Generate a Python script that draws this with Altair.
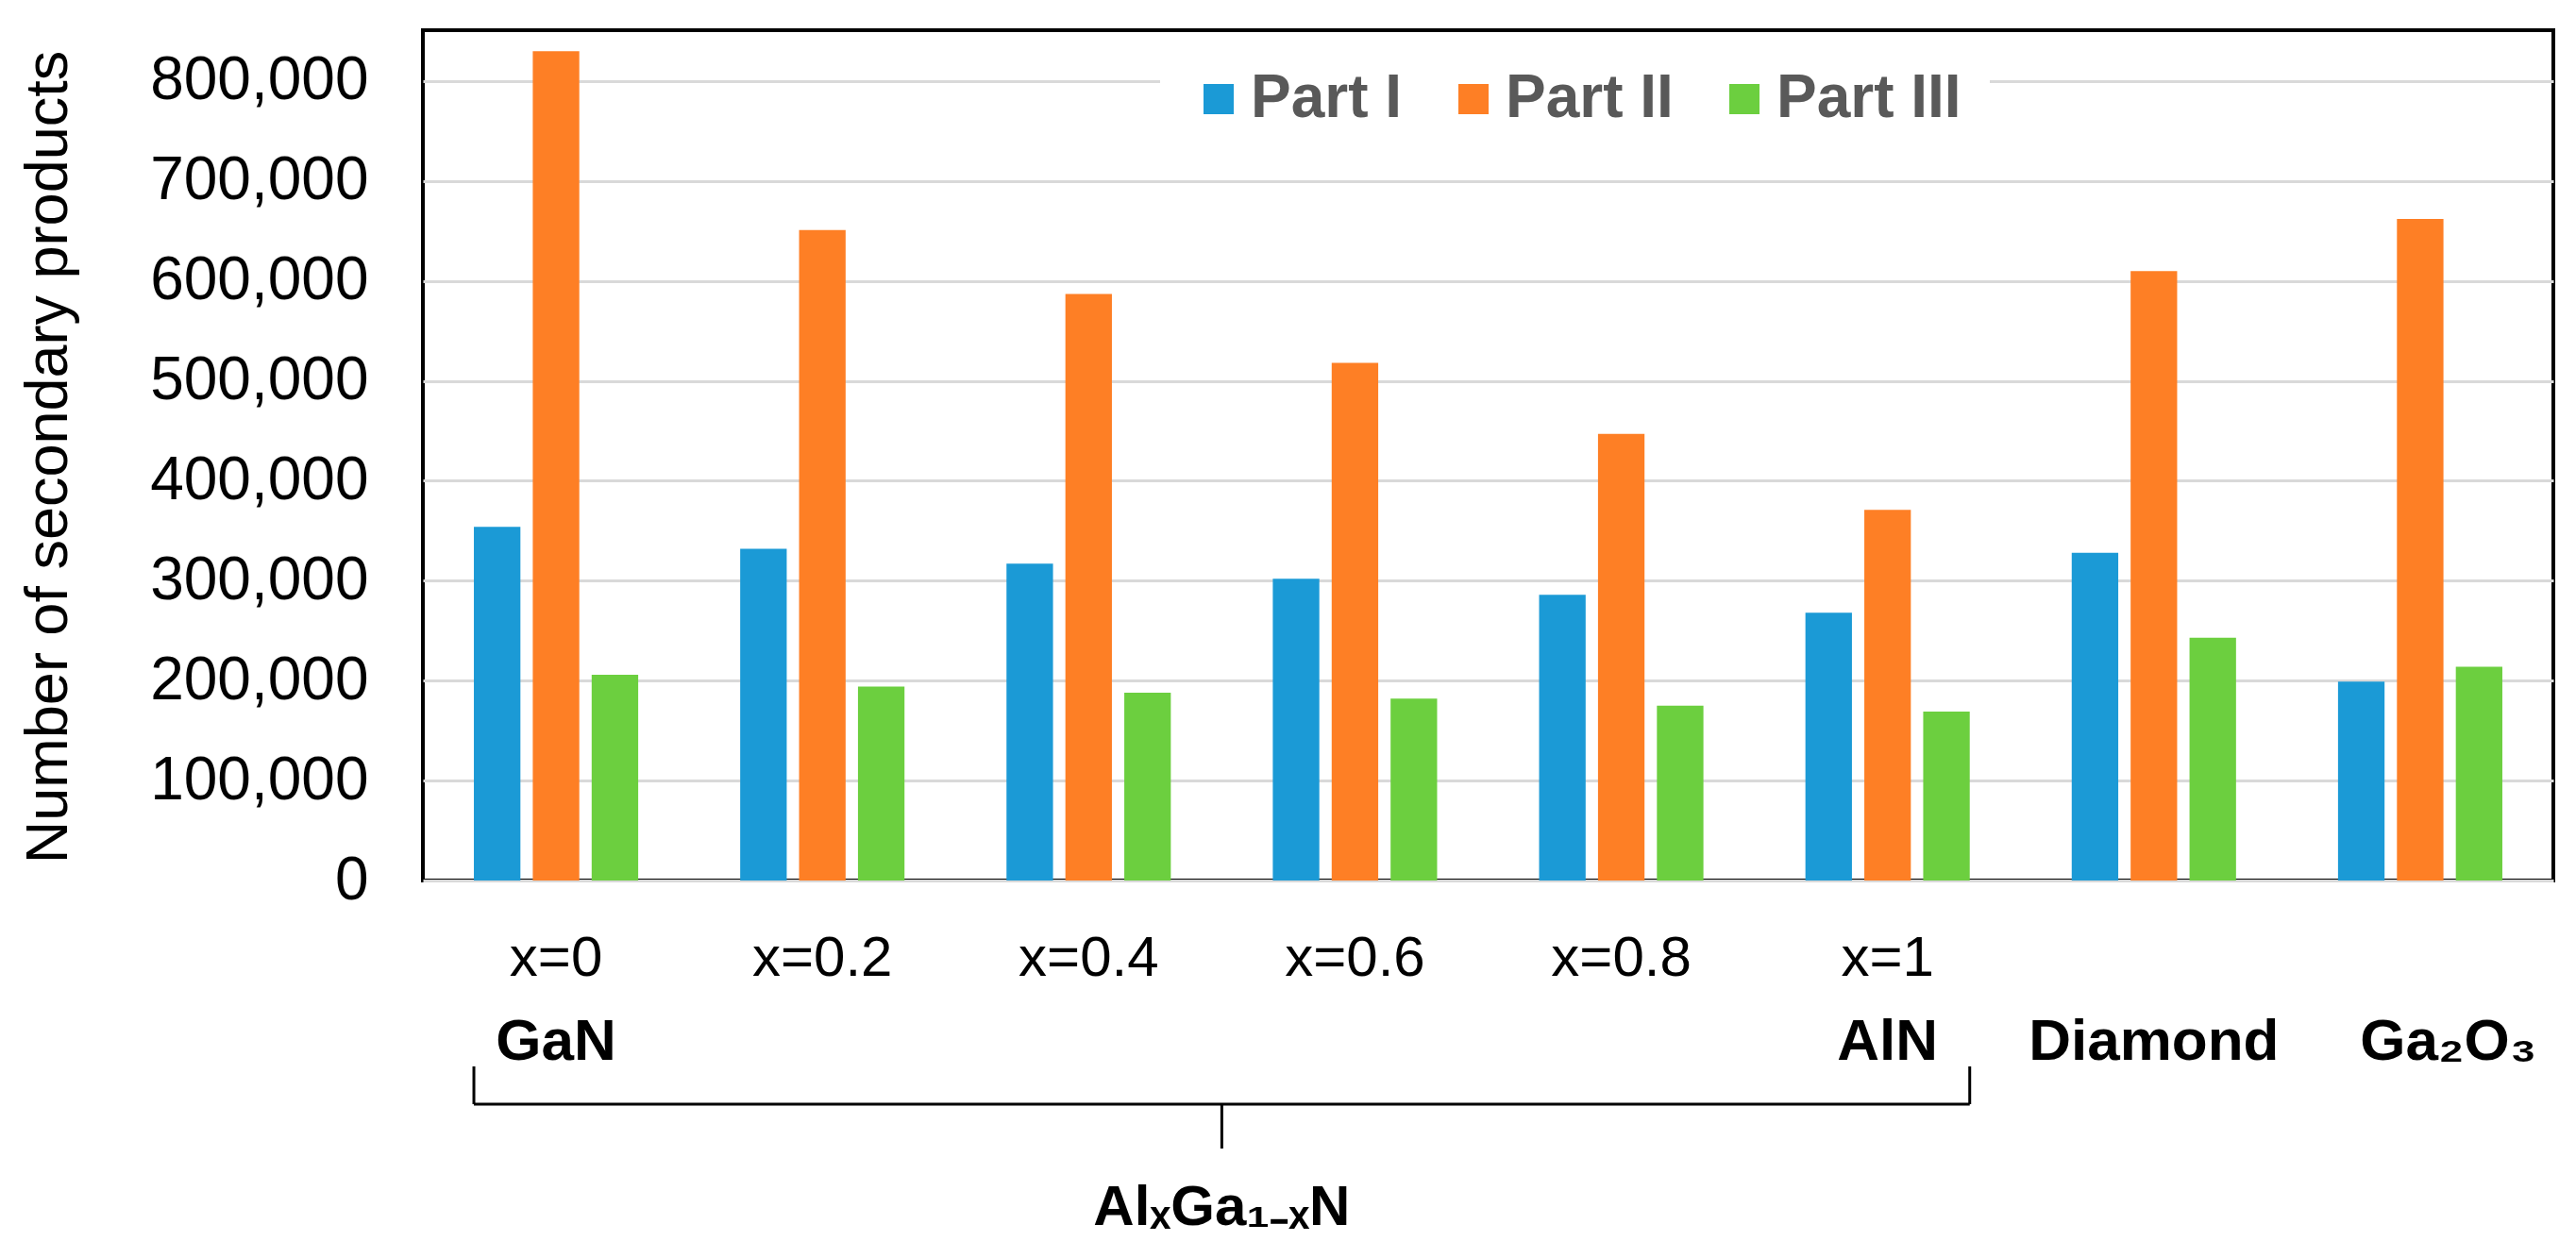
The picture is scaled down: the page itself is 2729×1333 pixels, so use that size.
import altair as alt
import pandas as pd

# ---------------- data ----------------
categories = ["x=0", "x=0.2", "x=0.4", "x=0.6", "x=0.8", "x=1", "Diamond", "Ga₂O₃"]
hidden_axis_labels = ["Diamond", "Ga₂O₃"]
parts = ["Part I", "Part II", "Part III"]
part1 = [354000, 332000, 317000, 302000, 286000, 268000, 328000, 199000]
part2 = [830000, 651000, 587000, 518000, 447000, 371000, 610000, 662000]
part3 = [206000, 194000, 188000, 182000, 175000, 169000, 243000, 214000]
y_ticks = [0, 100000, 200000, 300000, 400000, 500000, 600000, 700000, 800000]
material_cats = ["x=0", "x=1", "Diamond"]
material_names = ["GaN", "AlN", "Diamond"]
oxide_cats = ["Ga₂O₃"]
oxide_names = ["Ga₂O₃"]
group_label = "AlₓGa₁₋ₓN"
y_title = "Number of secondary products"

# ---------------- style ----------------
colors = ["#1B9AD6", "#FE7F25", "#6CCF3F"]
FONT = "Liberation Sans, Arial, sans-serif"
PAD_INNER = 0.383
PAD_OUTER = 0.1915
W, H = 2257, 901
STEP = W / (len(categories) - PAD_INNER + 2 * PAD_OUTER)
HALF_GAP = STEP * PAD_INNER / 2

rows = []
for c, a, b, d in zip(categories, part1, part2, part3):
    rows.append({"cat": c, "part": parts[0], "value": a})
    rows.append({"cat": c, "part": parts[1], "value": b})
    rows.append({"cat": c, "part": parts[2], "value": d})
df = pd.DataFrame(rows)

x_scale = alt.Scale(domain=categories, paddingInner=PAD_INNER, paddingOuter=PAD_OUTER)
label_expr = "indexof([" + ", ".join("'" + h + "'" for h in hidden_axis_labels) + "], datum.value) >= 0 ? '' : datum.label"


def xcat(field, **kw):
    return alt.X(field, type="nominal", scale=alt.Scale(domain=categories), **kw)


bars = alt.Chart(df).mark_bar().encode(
    x=alt.X("cat:N", scale=x_scale,
            axis=alt.Axis(title=None, labelExpr=label_expr, labelFontSize=60, labelFont=FONT,
                          labelColor="black", labelPadding=53, ticks=False, tickSize=0,
                          domain=False, labelAngle=0, grid=False, labelLimit=600)),
    xOffset=alt.XOffset("part:N", sort=parts, scale=alt.Scale(paddingInner=0.21, paddingOuter=0)),
    y=alt.Y("value:Q", scale=alt.Scale(domain=[0, 851000], nice=False, zero=True),
            axis=alt.Axis(values=y_ticks, format=",.0f", title=y_title,
                          labelFontSize=64, labelFont=FONT, labelColor="black", labelPadding=58,
                          labelLimit=600, ticks=False, tickSize=0, domain=False, grid=True,
                          gridColor="#D9D9D9", gridWidth=3,
                          titleFontSize=63, titleFont=FONT, titleFontWeight="normal",
                          titleColor="black", titleLimit=2000, titleAngle=270,
                          titleAlign="center", titleBaseline="alphabetic",
                          titleX=-378, titleY=452)),
    color=alt.Color("part:N", sort=parts, scale=alt.Scale(domain=parts, range=colors),
                    legend=alt.Legend(title=None, orient="none", direction="horizontal",
                                      legendX=781, legendY=11, symbolType="square",
                                      symbolSize=1024, symbolStrokeWidth=0,
                                      labelFontSize=64, labelFont=FONT, labelFontWeight="bold",
                                      labelColor="#595959", labelOffset=2, columnPadding=43,
                                      fillColor="white", padding=30, labelLimit=1000)),
)

text_style = dict(font=FONT, fontSize=62, fontWeight="bold", baseline="alphabetic",
                  align="center", color="black")

mat_df = pd.DataFrame({"cat": material_cats, "name": material_names})
materials = alt.Chart(mat_df).mark_text(**text_style).encode(
    x=xcat("cat"), y=alt.value(1091), text="name:N")

ox_df = pd.DataFrame({"cat": oxide_cats, "name": oxide_names})
oxide = alt.Chart(ox_df).mark_text(dx=30, **text_style).encode(
    x=xcat("cat"), y=alt.value(1091), text="name:N")

# bracket under the AlxGa1-xN series
br_df = pd.DataFrame({"start": [categories[0]], "end": [categories[5]],
                      "mid": [categories[2]], "mid_next": [categories[3]]})
rule_style = dict(color="black", strokeWidth=3)
br_h = alt.Chart(br_df).mark_rule(**rule_style).encode(
    x=xcat("start", bandPosition=0),
    x2=alt.X2("end:N", bandPosition=1),
    y=alt.value(1138))
br_l = alt.Chart(br_df).mark_rule(**rule_style).encode(
    x=xcat("start", bandPosition=0), y=alt.value(1098), y2=alt.value(1138))
br_r = alt.Chart(br_df).mark_rule(**rule_style).encode(
    x=xcat("end", bandPosition=1), y=alt.value(1098), y2=alt.value(1138))
br_m = alt.Chart(br_df).mark_rule(**rule_style).encode(
    x=xcat("mid_next", bandPosition=0), xOffset=alt.value(-HALF_GAP),
    y=alt.value(1138), y2=alt.value(1185))
br_t = alt.Chart(br_df).mark_text(
    font=FONT, fontSize=60, fontWeight="bold", baseline="alphabetic", align="center", color="black",
    dx=HALF_GAP
).encode(x=xcat("mid", bandPosition=1), y=alt.value(1266), text=alt.value(group_label))

chart = alt.layer(bars, materials, oxide, br_h, br_l, br_r, br_m, br_t).properties(
    width=W, height=H,
    autosize=alt.AutoSizeParams(type="none"),
    padding={"left": 440, "top": 24, "right": 16, "bottom": 392},
    background="white",
).configure_view(stroke="black", strokeWidth=4)

chart.save("out.html", embed_options={"renderer": "svg", "actions": False})
